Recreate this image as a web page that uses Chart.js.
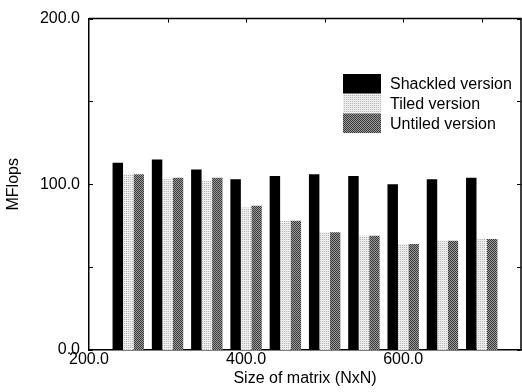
<!DOCTYPE html>
<html><head><meta charset="utf-8">
<script src="https://cdn.jsdelivr.net/npm/chart.js@4/dist/chart.umd.min.js"></script>
<style>html,body{margin:0;padding:0;background:#fff}#wrap{width:522px;height:392px;position:relative}</style>
</head><body><div id="wrap"><canvas id="c" width="522" height="392"></canvas></div>
<script>
const sizes = [250, 300, 350, 400, 450, 500, 550, 600, 650, 700];
const shackled = [113, 115, 109, 103, 105, 106, 105, 100, 103, 104];
const tiled = [106, 103, 102, 86, 78, 71, 69, 64, 66, 67];
const untiled = [106, 104, 104, 87, 78, 71, 69, 64, 66, 67];
const seriesNames = ['Shackled version', 'Tiled version', 'Untiled version'];
const xTicks = [200, 400, 600];
const yTicks = [0, 100, 200];

function makePattern(cells, n) {
  const cv = document.createElement('canvas');
  cv.width = n; cv.height = n;
  const g = cv.getContext('2d');
  for (let i = 0; i < n; i++) for (let j = 0; j < n; j++) {
    g.fillStyle = cells[(j % cells.length)][(i % cells[0].length)];
    g.fillRect(i, j, 1, 1);
  }
  return g.createPattern(cv, 'repeat');
}
const ctx0 = document.getElementById('c').getContext('2d');
const tiledFill = makePattern([['#f0f0f0', '#f0f0f0'], ['#b8b8b8', '#e6e6e6']], 2);
const untiledFill = makePattern([['#3a3a3a', '#9a9a9a'], ['#9a9a9a', '#3a3a3a']], 2);
const fills = ['#000000', tiledFill, untiledFill];

const toPts = arr => sizes.map((s, i) => ({x: s, y: arr[i]}));
const FONT = {family: '"Liberation Sans", Arial, sans-serif', size: 16};

const framePlugin = {
  id: 'frame',
  afterDraw(chart) {
    const {ctx, chartArea: a, scales: {x, y}} = chart;
    ctx.save();
    ctx.strokeStyle = '#000';
    ctx.lineWidth = 1.5;
    ctx.beginPath();
    ctx.moveTo(a.left, a.top); ctx.lineTo(a.right, a.top); ctx.lineTo(a.right, a.bottom);
    ctx.stroke();
    ctx.lineWidth = 1;
    ctx.beginPath();
    for (let v = 0; v <= 200; v += 50) {
      const py = Math.round(y.getPixelForValue(v)) + 0.5;
      ctx.moveTo(a.left, py); ctx.lineTo(a.left + 4, py);
      ctx.moveTo(a.right, py); ctx.lineTo(a.right - 4, py);
    }
    for (let v = 300; v <= 700; v += 100) {
      const px = Math.round(x.getPixelForValue(v)) + 0.5;
      ctx.moveTo(px, a.top); ctx.lineTo(px, a.top + 4);
    }
    ctx.stroke();
    // legend
    const lx = 343, ly = 74, bw = 38, bh = 19.7;
    ctx.font = '16px "Liberation Sans", Arial, sans-serif';
    ctx.textBaseline = 'middle';
    ctx.textAlign = 'left';
    seriesNames.forEach((name, i) => {
      ctx.fillStyle = fills[i];
      ctx.fillRect(lx, ly + i * bh, bw, bh);
      ctx.fillStyle = '#000';
      ctx.fillText(name, 390, ly + i * bh + bh / 2 + 1);
    });
    ctx.restore();
  }
};

new Chart(ctx0, {
  type: 'bar',
  data: {
    datasets: [
      {label: seriesNames[0], data: toPts(shackled), backgroundColor: fills[0]},
      {label: seriesNames[1], data: toPts(tiled), backgroundColor: fills[1]},
      {label: seriesNames[2], data: toPts(untiled), backgroundColor: fills[2]}
    ]
  },
  options: {
    responsive: false,
    animation: false,
    events: [],
    layout: {padding: {top: 16, right: 1, left: 0, bottom: 0}},
    categoryPercentage: 0.8,
    barPercentage: 1.0,
    plugins: {legend: {display: false}, tooltip: {enabled: false}},
    scales: {
      x: {
        type: 'linear', min: 200, max: 750, offset: false,
        grid: {display: false, drawTicks: false},
        border: {display: true, color: '#000', width: 1.5},
        afterBuildTicks: s => { s.ticks = xTicks.map(v => ({value: v})); },
        afterFit: s => { s.height = 42; },
        ticks: {color: '#000', font: FONT, padding: 0, maxRotation: 0, callback: v => Number(v).toFixed(1)},
        title: {display: true, text: 'Size of matrix (NxN)', color: '#000', font: FONT, padding: {top: 0, bottom: 4}}
      },
      y: {
        min: 0, max: 200,
        grid: {display: false, drawTicks: false},
        border: {display: true, color: '#000', width: 1.5},
        afterBuildTicks: s => { s.ticks = yTicks.map(v => ({value: v})); },
        afterFit: s => { s.width = 89; },
        ticks: {color: '#000', font: FONT, padding: 9, callback: v => Number(v).toFixed(1)},
        title: {display: true, text: 'MFlops', color: '#000', font: FONT, padding: {top: 4, bottom: 0}}
      }
    }
  },
  plugins: [framePlugin]
});
</script></body></html>
